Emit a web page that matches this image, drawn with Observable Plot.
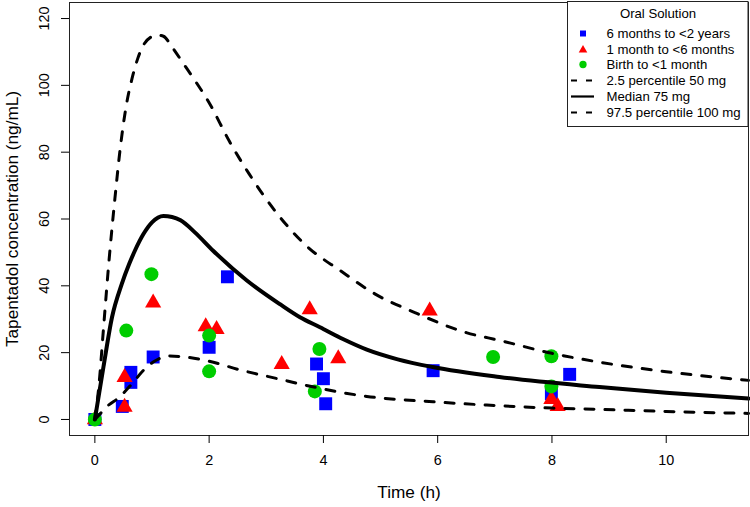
<!DOCTYPE html>
<html><head><meta charset="utf-8">
<script src="https://cdn.jsdelivr.net/npm/d3@7"></script>
<script src="https://cdn.jsdelivr.net/npm/@observablehq/plot@0.6"></script>
<style>
body{margin:0;background:#fff;}
#wrap{width:750px;height:507px;}
</style></head><body><div id="wrap"></div>
<script>
// ---- data ----
const xTicks = [0, 2, 4, 6, 8, 10];
const yTicks = [0, 20, 40, 60, 80, 100, 120];

// observed: 6 months to <2 years
const blueT = [0, 0.48, 0.63, 0.63, 1.02, 2.0, 2.32, 3.88, 4.0, 4.04, 5.92, 7.99, 8.31];
const blueC = [0, 3.9, 14.1, 11.1, 18.7, 21.6, 42.7, 16.6, 12.2, 4.7, 14.6, 7.7, 13.5];
// observed: 1 month to <6 months
const redT = [0, 0.52, 0.52, 1.02, 1.94, 2.13, 3.27, 3.76, 4.26, 5.86, 7.99, 8.1];
const redC = [0, 12.6, 3.7, 34.9, 27.8, 27.0, 16.5, 32.9, 18.2, 32.5, 6.0, 3.9];
// observed: Birth to <1 month
const greenT = [0, 0.55, 0.99, 2.0, 2.0, 3.85, 3.93, 6.97, 7.99, 7.99];
const greenC = [0, 26.6, 43.5, 25.1, 14.4, 8.4, 21.1, 18.7, 18.9, 9.9];

// simulated curves
const upperT = [0, 0.07, 0.15, 0.25, 0.35, 0.45, 0.55, 0.65, 0.75, 0.85, 1.0, 1.1, 1.2, 1.35, 1.55, 1.75, 2.0, 2.35, 2.7, 3.2, 3.7, 4.3, 4.9, 5.6, 6.5, 7.1, 8.0, 8.85, 10, 11.44];
const upperC = [0, 10, 27, 48, 66, 82, 94, 102, 108, 112, 114.6, 115, 114.7, 111.5, 106.5, 101.5, 94.8, 83.4, 73.5, 61.4, 52, 44.5, 37.6, 32, 26, 23.6, 19.8, 17.1, 14.3, 11.7];
const medianT = [0, 0.15, 0.3, 0.47, 0.6, 0.7, 0.85, 1.0, 1.2, 1.35, 1.5, 1.75, 2.07, 2.66, 3.24, 3.59, 3.94, 4.35, 4.76, 5.3, 5.91, 7.08, 8.83, 10, 11.44];
const medianC = [0, 15.7, 30.6, 40.5, 46.5, 50.5, 55.5, 59, 60.9, 60.6, 59.6, 56, 50.5, 41.6, 34.5, 30.6, 27.6, 24.0, 20.9, 18.0, 15.7, 12.7, 9.7, 8, 6.3];
const lowerT = [0, 0.12, 0.24, 0.41, 0.65, 0.85, 1.05, 1.3, 1.58, 1.93, 2.57, 3.2, 3.7, 4.76, 5.92, 6.86, 8.0, 8.83, 10, 11.44];
const lowerC = [0, 2.2, 4.3, 6.4, 10.7, 14.7, 17.5, 19.0, 18.7, 17.7, 14.7, 12.2, 10.2, 6.9, 5.3, 4.3, 3.4, 3.0, 2.4, 1.8];

const legendTitle = "Oral Solution";
const legendLabels = ["6 months to <2 years", "1 month to <6 months", "Birth to <1 month",
  "2.5 percentile 50 mg", "Median 75 mg", "97.5 percentile 100 mg"];

const BLUE = "#0000FF", RED = "#FF0000", GREEN = "#00CD00";

// ---- build tables ----
const zip = (t, c) => t.map((v, i) => ({t: v, c: c[i]}));
const blue = zip(blueT, blueC), red = zip(redT, redC), green = zip(greenT, greenC);
const upper = zip(upperT, upperC), median = zip(medianT, medianC), lower = zip(lowerT, lowerC);

const FONT = "'Liberation Sans', Arial, Helvetica, sans-serif";
const dash = {strokeWidth: 3, strokeDasharray: "9,11", strokeLinecap: "round", stroke: "black", curve: "monotone-x"};

const chart = Plot.plot({
  width: 750, height: 507,
  marginLeft: 69, marginRight: 2, marginTop: 2, marginBottom: 72,
  style: {fontFamily: FONT, fontSize: "14.4px", background: "white", color: "black"},
  x: {domain: [-0.444, 11.44]},
  y: {domain: [-4.8, 124.8]},
  marks: [
    Plot.dot(blue, {x: "t", y: "c", symbol: "square", r: 7.3, fill: BLUE}),
    Plot.dot(red, {x: "t", y: "c", symbol: "triangle", r: 6, fill: RED}),
    Plot.dot(green, {x: "t", y: "c", symbol: "circle", r: 7, fill: GREEN}),
    Plot.line(lower, {x: "t", y: "c", ...dash}),
    Plot.line(upper, {x: "t", y: "c", ...dash}),
    Plot.line(median, {x: "t", y: "c", stroke: "black", strokeWidth: 4, strokeLinecap: "round", curve: "monotone-x"}),
    Plot.frame({stroke: "#222", strokeWidth: 1}),
    Plot.axisX({ticks: xTicks, tickSize: 8, tickPadding: 11, fontSize: 14.4, label: null}),
    Plot.axisY({ticks: yTicks, tickSize: 8, tickFormat: () => "", label: null}),
    Plot.text(yTicks, {y: d => d, text: d => String(d), frameAnchor: "left", dx: -25, rotate: -90, textAnchor: "middle", fontSize: 14.4}),
    Plot.text(["Time (h)"], {frameAnchor: "bottom", dy: 62, fontSize: 17.2, textAnchor: "middle"}),
    Plot.text(["Tapentadol concentration (ng/mL)"], {frameAnchor: "left", dx: -57, rotate: -90, fontSize: 17.2, textAnchor: "middle"})
  ]
});
document.getElementById("wrap").appendChild(chart);

// ---- legend (inside the plot, top-right) ----
const svg = d3.select(chart);
const g = svg.append("g").attr("font-family", FONT).attr("font-size", 13.2).attr("text-anchor", "start");
g.append("rect").attr("x", 567.5).attr("y", 1.5).attr("width", 180.5).attr("height", 125)
  .attr("fill", "white").attr("stroke", "#222");
g.append("text").attr("x", 658).attr("y", 13.5).attr("text-anchor", "middle")
  .attr("dominant-baseline", "central").text(legendTitle);
const rowY = [33.5, 49, 64.5, 80.5, 96.5, 112.5];
const sx = 583;
legendLabels.forEach((lab, i) => {
  g.append("text").attr("x", 606.5).attr("y", rowY[i]).attr("text-anchor", "start")
    .attr("dominant-baseline", "central").text(lab);
});
g.append("path").attr("d", d3.symbol(d3.symbolSquare, 36)()).attr("transform", `translate(${sx},${rowY[0]})`).attr("fill", BLUE);
g.append("path").attr("d", d3.symbol(d3.symbolTriangle, 32)()).attr("transform", `translate(${sx},${rowY[1] + 1})`).attr("fill", RED);
g.append("path").attr("d", d3.symbol(d3.symbolCircle, 42)()).attr("transform", `translate(${sx},${rowY[2]})`).attr("fill", GREEN);
[3, 5].forEach(i => {
  g.append("line").attr("x1", 571).attr("x2", 594).attr("y1", rowY[i]).attr("y2", rowY[i])
    .attr("stroke", "black").attr("stroke-width", 2.2).attr("stroke-dasharray", "6,9");
});
g.append("line").attr("x1", 571).attr("x2", 594).attr("y1", rowY[4]).attr("y2", rowY[4])
  .attr("stroke", "black").attr("stroke-width", 2.2);
</script></body></html>
